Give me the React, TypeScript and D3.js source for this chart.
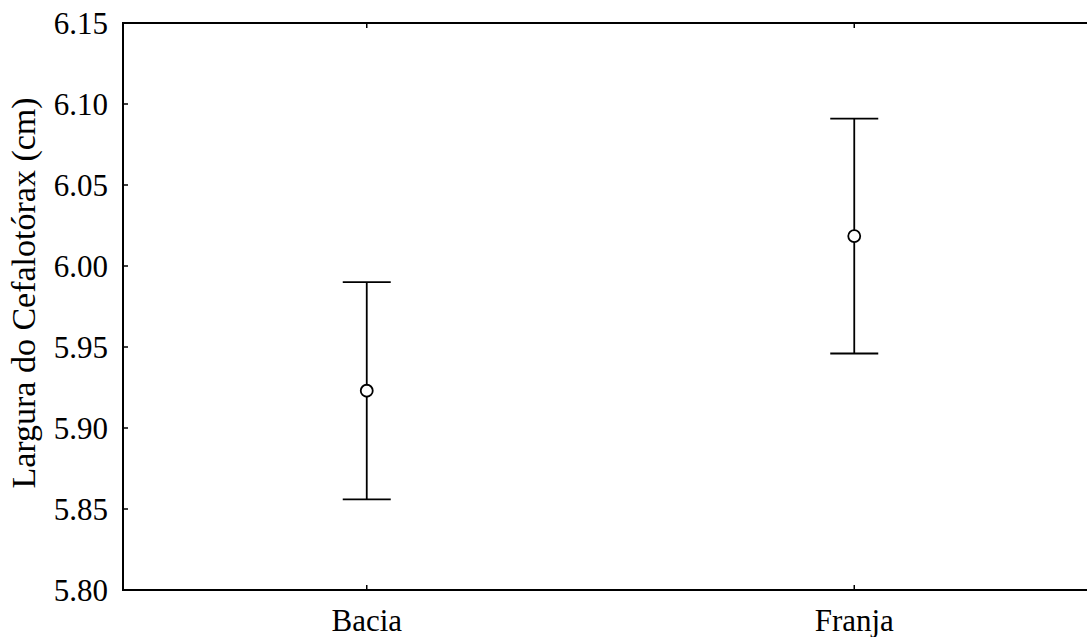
import React from 'react';
import * as d3 from 'd3';

// group means with upper / lower bounds
const categories = ['Bacia', 'Franja'];
const means = [5.923, 6.0185];
const upper = [5.990, 6.091];
const lower = [5.856, 5.946];
const yTicks = [5.80, 5.85, 5.90, 5.95, 6.00, 6.05, 6.10, 6.15];

const App: React.FC = () => {
  const width = 1087;
  const height = 637;
  const left = 123;
  const top = 23;
  const bottom = 590;
  const right = 1098;
  const tickFont = { fontFamily: 'Liberation Serif', fontSize: '31px' };
  const labelFont = { fontFamily: 'Liberation Serif', fontSize: '34px' };

  const x = d3.scalePoint<string>().domain(categories).range([left, right]).padding(0.5);
  const y = d3.scaleLinear().domain([5.80, 6.15]).range([bottom, top]);
  const capHalf = 24;
  const tickLen = 5;

  return (
    <svg width={width} height={height} style={{ position: 'absolute', left: 0, top: 0, background: '#fff' }}>
      <rect x={left} y={top} width={right - left} height={bottom - top} fill="none" stroke="#000" strokeWidth={2} />
      {yTicks.map(t => (
        <g key={t}>
          <line x1={left} x2={left + tickLen} y1={y(t)} y2={y(t)} stroke="#000" strokeWidth={1.5} />
          <text x={108} y={y(t)} dy="0.35em" textAnchor="end" style={tickFont} fill="#000">
            {t.toFixed(2)}
          </text>
        </g>
      ))}
      {categories.map(c => (
        <g key={c}>
          <line x1={x(c)} x2={x(c)} y1={bottom} y2={bottom - tickLen} stroke="#000" strokeWidth={1.5} />
          <line x1={x(c)} x2={x(c)} y1={top} y2={top + tickLen} stroke="#000" strokeWidth={1.5} />
          <text x={x(c)} y={631} textAnchor="middle" style={tickFont} fill="#000">{c}</text>
        </g>
      ))}
      {categories.map((c, i) => {
        const cx = x(c)!;
        return (
          <g key={'e' + c} stroke="#000" strokeWidth={1.8}>
            <line x1={cx} x2={cx} y1={y(upper[i])} y2={y(lower[i])} />
            <line x1={cx - capHalf} x2={cx + capHalf} y1={y(upper[i])} y2={y(upper[i])} />
            <line x1={cx - capHalf} x2={cx + capHalf} y1={y(lower[i])} y2={y(lower[i])} />
            <circle cx={cx} cy={y(means[i])} r={6} fill="#fff" />
          </g>
        );
      })}
      <text
        transform={`translate(35, 293) rotate(-90)`}
        textAnchor="middle"
        style={labelFont}
        fill="#000"
      >
        Largura do Cefalotórax (cm)
      </text>
    </svg>
  );
};

export default App;
